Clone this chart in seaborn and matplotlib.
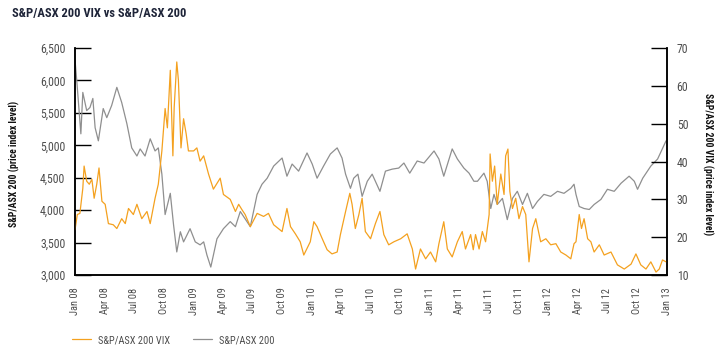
import pandas as pd
import seaborn as sns
import matplotlib.pyplot as plt
import matplotlib.dates as mdates
from matplotlib.ticker import FuncFormatter

# S&P/ASX 200 index level (left axis)
asx_dates = ['2008-01-01', '2008-01-07', '2008-01-19', '2008-01-25', '2008-02-06', '2008-02-16',
             '2008-02-25', '2008-03-03', '2008-03-13', '2008-03-28', '2008-04-08', '2008-04-23',
             '2008-05-09', '2008-05-24', '2008-06-09', '2008-06-24', '2008-07-10', '2008-07-20',
             '2008-08-04', '2008-08-20', '2008-09-04', '2008-09-14', '2008-09-25', '2008-10-05',
             '2008-10-21', '2008-10-31', '2008-11-10', '2008-11-21', '2008-12-01', '2008-12-21',
             '2009-01-06', '2009-01-21', '2009-02-01', '2009-02-11', '2009-02-23', '2009-03-14',
             '2009-04-03', '2009-04-24', '2009-05-10', '2009-05-25', '2009-06-25', '2009-07-16',
             '2009-07-31', '2009-08-16', '2009-09-05', '2009-10-01', '2009-10-16', '2009-11-01',
             '2009-11-21', '2009-12-17', '2010-01-02', '2010-01-17', '2010-02-06', '2010-02-27',
             '2010-03-20', '2010-04-04', '2010-04-15', '2010-04-30', '2010-05-10', '2010-05-23',
             '2010-06-05', '2010-06-21', '2010-07-06', '2010-07-30', '2010-08-16', '2010-09-06',
             '2010-09-26', '2010-10-12', '2010-10-30', '2010-11-22', '2010-12-13', '2011-01-13',
             '2011-01-28', '2011-02-12', '2011-03-10', '2011-03-26', '2011-04-15', '2011-05-01',
             '2011-05-16', '2011-05-27', '2011-06-16', '2011-06-26', '2011-07-07', '2011-07-17',
             '2011-07-27', '2011-08-12', '2011-08-27', '2011-09-12', '2011-09-27', '2011-10-13',
             '2011-10-28', '2011-11-13', '2011-11-28', '2011-12-18', '2012-01-08', '2012-01-29',
             '2012-02-18', '2012-03-10', '2012-03-20', '2012-03-26', '2012-04-05', '2012-04-20',
             '2012-05-06', '2012-05-21', '2012-06-11', '2012-07-01', '2012-07-22', '2012-08-12',
             '2012-09-06', '2012-09-22', '2012-10-02', '2012-10-18', '2012-11-12', '2012-12-03',
             '2012-12-29']
asx_values = [6313, 5955, 5177, 5815, 5535, 5582,
              5722, 5271, 5069, 5566, 5426, 5613,
              5893, 5660, 5333, 4960, 4835, 4944,
              4835, 5100, 4913, 4960, 4555, 3933,
              4260, 3777, 3357, 3668, 3512, 3715,
              3512, 3466, 3512, 3310, 3124, 3559,
              3715, 3824, 3746, 3980, 3746, 4244,
              4400, 4493, 4680, 4804, 4524, 4711,
              4602, 4882, 4711, 4493, 4680, 4866,
              4960, 4804, 4555, 4337, 4493, 4555,
              4213, 4446, 4555, 4291, 4602, 4633,
              4649, 4727, 4571, 4758, 4727, 4913,
              4789, 4524, 4944, 4789, 4649, 4571,
              4446, 4446, 4571, 4446, 4026, 4244,
              4088, 4182, 3855, 4182, 4291, 4088,
              4260, 4026, 4135, 4244, 4213, 4291,
              4260, 4337, 4400, 4244, 4057, 4026,
              4011, 4088, 4166, 4322, 4291, 4415,
              4524, 4446, 4322, 4493, 4680, 4789,
              5069]

# S&P/ASX 200 VIX (right axis)
vix_dates = ['2008-01-01', '2008-01-08', '2008-01-16', '2008-01-25', '2008-01-29', '2008-02-06',
             '2008-02-14', '2008-02-22', '2008-02-29', '2008-03-08', '2008-03-15', '2008-03-24',
             '2008-04-03', '2008-04-13', '2008-04-28', '2008-05-09', '2008-05-24', '2008-06-04',
             '2008-06-14', '2008-06-29', '2008-07-10', '2008-07-25', '2008-08-10', '2008-08-20',
             '2008-09-04', '2008-09-14', '2008-09-25', '2008-10-05', '2008-10-12', '2008-10-21',
             '2008-10-29', '2008-11-02', '2008-11-10', '2008-11-15', '2008-11-23', '2008-12-01',
             '2008-12-09', '2008-12-16', '2009-01-01', '2009-01-11', '2009-01-21', '2009-02-01',
             '2009-02-16', '2009-03-03', '2009-03-24', '2009-04-03', '2009-04-24', '2009-05-10',
             '2009-05-20', '2009-05-30', '2009-06-09', '2009-06-25', '2009-07-16', '2009-08-05',
             '2009-08-20', '2009-09-05', '2009-10-01', '2009-10-16', '2009-10-27', '2009-11-11',
             '2009-11-26', '2009-12-07', '2009-12-27', '2010-01-07', '2010-01-17', '2010-02-02',
             '2010-02-17', '2010-03-04', '2010-03-20', '2010-03-30', '2010-04-15', '2010-04-28',
             '2010-05-05', '2010-05-15', '2010-05-26', '2010-06-05', '2010-06-15', '2010-07-01',
             '2010-07-16', '2010-07-30', '2010-08-11', '2010-08-26', '2010-09-11', '2010-10-02',
             '2010-10-22', '2010-11-07', '2010-11-17', '2010-12-02', '2010-12-18', '2011-01-02',
             '2011-01-18', '2011-01-28', '2011-02-12', '2011-02-23', '2011-03-10', '2011-03-26',
             '2011-04-10', '2011-04-20', '2011-05-06', '2011-05-14', '2011-05-21', '2011-06-01',
             '2011-06-11', '2011-06-21', '2011-07-02', '2011-07-05', '2011-07-12', '2011-07-19',
             '2011-07-27', '2011-08-07', '2011-08-17', '2011-08-22', '2011-08-29', '2011-09-04',
             '2011-09-12', '2011-09-22', '2011-10-02', '2011-10-13', '2011-10-23', '2011-11-02',
             '2011-11-13', '2011-11-23', '2011-12-08', '2011-12-24', '2012-01-08', '2012-01-24',
             '2012-02-08', '2012-02-24', '2012-03-10', '2012-03-20', '2012-03-26', '2012-04-05',
             '2012-04-12', '2012-04-20', '2012-05-01', '2012-05-11', '2012-05-21', '2012-06-06',
             '2012-06-21', '2012-07-12', '2012-08-01', '2012-08-22', '2012-09-12', '2012-09-27',
             '2012-10-12', '2012-10-28', '2012-11-12', '2012-11-28', '2012-12-08', '2012-12-18',
             '2012-12-29']
vix_values = [22.0, 26.0, 26.3, 32.9, 38.8, 34.8,
              34.0, 35.3, 30.3, 34.0, 38.3, 29.5,
              28.7, 23.6, 23.3, 22.3, 24.9, 23.6,
              27.6, 26.0, 28.7, 24.9, 26.8, 23.6,
              30.3, 34.0, 42.8, 54.0, 48.9, 64.1,
              41.5, 54.3, 66.3, 61.5, 43.6, 51.3,
              47.3, 42.8, 42.8, 43.6, 40.1, 41.5,
              36.7, 32.7, 35.6, 31.3, 30.0, 26.8,
              28.7, 27.3, 26.0, 22.8, 26.3, 25.5,
              26.3, 23.3, 21.5, 27.6, 22.8, 20.9,
              18.8, 15.3, 18.8, 24.1, 22.8, 19.6,
              16.7, 15.6, 16.1, 20.7, 26.8, 31.6,
              28.7, 22.3, 26.0, 30.3, 21.5, 19.6,
              23.6, 26.8, 20.7, 18.0, 18.8, 19.6,
              20.9, 16.9, 11.6, 16.9, 14.3, 16.1,
              13.5, 18.3, 24.1, 16.9, 14.8, 18.8,
              21.5, 16.9, 20.7, 16.7, 20.7, 16.9,
              21.5, 18.8, 26.0, 42.0, 34.8, 38.8,
              28.7, 36.7, 31.3, 41.5, 43.3, 32.1,
              27.6, 30.3, 24.9, 28.1, 26.0, 13.5,
              22.3, 24.9, 18.8, 19.6, 18.0, 18.3,
              16.1, 15.3, 14.3, 18.3, 18.8, 26.0,
              22.3, 24.9, 19.6, 18.8, 16.1, 18.0,
              15.3, 16.1, 12.7, 11.6, 12.9, 15.6,
              12.7, 11.6, 13.5, 10.8, 11.6, 14.0,
              13.5]

asx = pd.DataFrame({'date': pd.to_datetime(asx_dates), 'value': asx_values})
vix = pd.DataFrame({'date': pd.to_datetime(vix_dates), 'value': vix_values})

sns.set_style('white')
plt.rcParams['font.family'] = ['Roboto Condensed', 'Liberation Sans', 'DejaVu Sans']

orange = '#F4A11F'
grey = '#8F8F8F'
tick_grey = '#4D4D4D'
navy = '#1E2438'

fig = plt.figure(figsize=(7.18, 3.5), dpi=100)
ax = fig.add_axes([0.1045, 0.214, 0.8245, 0.649])
ax2 = ax.twinx()

sns.lineplot(data=asx, x='date', y='value', ax=ax, color=grey, linewidth=0.9, label='S&P/ASX 200')
sns.lineplot(data=vix, x='date', y='value', ax=ax2, color=orange, linewidth=0.9, label='S&P/ASX 200 VIX')

ax.set_ylim(3000, 6500)
ax.set_yticks(range(3000, 6501, 500))
ax.yaxis.set_major_formatter(FuncFormatter(lambda v, p: f'{int(v):,}'))
ax2.set_ylim(10, 70)
ax2.set_yticks(range(10, 71, 10))

ax.set_xlim(pd.Timestamp('2008-01-01'), pd.Timestamp('2013-01-01'))
ax.xaxis.set_major_locator(mdates.MonthLocator(bymonth=[1, 4, 7, 10]))
ax.xaxis.set_major_formatter(mdates.DateFormatter('%b %y'))

for a in (ax, ax2):
    a.spines['top'].set_visible(False)
    for s in a.spines.values():
        s.set_color('black')
        s.set_linewidth(1.1)
    a.grid(False)
    a.set_xlabel('')
    a.set_ylabel('')
    if a.get_legend() is not None:
        a.get_legend().remove()

ax.tick_params(axis='y', direction='in', length=11.5, width=1.0, color='black',
               labelsize=8.5, labelcolor=tick_grey, pad=7, left=True)
ax2.tick_params(axis='y', direction='in', length=11.5, width=1.0, color='black',
                labelsize=8.5, labelcolor=tick_grey, pad=7, right=True)
ax.tick_params(axis='x', length=0, labelsize=7.5, labelcolor=tick_grey, pad=9)
plt.setp(ax.get_xticklabels(), rotation=90, ha='center')

fig.text(12 / 718, 1 - 14 / 350, 'S&P/ASX 200 VIX vs S&P/ASX 200', fontsize=9,
         fontweight='bold', color=navy, va='center', ha='left')
fig.text(14 / 718, 1 - 164 / 350, 'S&P/ASX 200 (price index level)', rotation=90, fontsize=7,
         fontweight='bold', color='#111111', va='center', ha='center')
fig.text(708 / 718, 1 - 164 / 350, 'S&P/ASX 200 VIX (price index level)', rotation=270, fontsize=7,
         fontweight='bold', color='#111111', va='center', ha='center')

h1, l1 = ax2.get_legend_handles_labels()
h2, l2 = ax.get_legend_handles_labels()
fig.legend(h1 + h2, l1 + l2, loc='center left', bbox_to_anchor=(72 / 718, 1 - 340 / 350), ncol=2,
           frameon=False, fontsize=7.5, handlelength=1.8, columnspacing=2.2, borderpad=0,
           borderaxespad=0, handletextpad=0.7, labelcolor=tick_grey)

plt.savefig('out.png', dpi=100)
